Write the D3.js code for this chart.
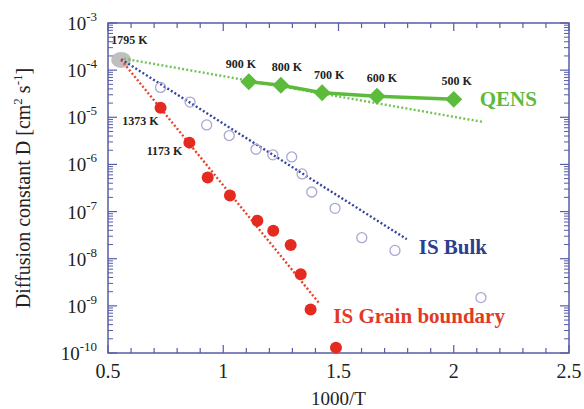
<!DOCTYPE html>
<html>
<head>
<meta charset="utf-8">
<script src="https://cdn.jsdelivr.net/npm/d3@7"></script>
<style>
  body { margin: 0; background: #fff; }
  text { font-family: "Liberation Serif", "Times New Roman", serif; }
</style>
</head>
<body>
<div id="chart"></div>
<script>
// Data
const xTicks = [0.5, 1, 1.5, 2, 2.5];
const yExponents = [-3, -4, -5, -6, -7, -8, -9, -10];

const refPoint = [0.557, 1.65e-4];   // 1795 K
const refLabel = "1795 K";

const grainX = [0.728, 0.853, 0.9325, 1.029, 1.148, 1.217, 1.2925, 1.336, 1.379, 1.489];
const grainD = [1.6e-5, 2.9e-6, 5.3e-7, 2.2e-7, 6.4e-8, 3.9e-8, 1.95e-8, 4.7e-9, 8.4e-10, 1.3e-10];

const bulkX = [0.728, 0.856, 0.928, 1.026, 1.142, 1.215, 1.297, 1.342, 1.384, 1.485, 1.601, 1.745, 2.118];
const bulkD = [4.3e-5, 2.1e-5, 6.9e-6, 4.1e-6, 2.1e-6, 1.6e-6, 1.44e-6, 6.3e-7, 2.6e-7, 1.17e-7, 2.8e-8, 1.5e-8, 1.5e-9];

const qensX = [1.111, 1.25, 1.429, 1.667, 2.0];
const qensD = [5.7e-5, 4.8e-5, 3.3e-5, 2.8e-5, 2.4e-5];
const qensLabels = ["900 K", "800 K", "700 K", "600 K", "500 K"];

// dotted fit lines (start, end)
const grainFitX = [0.557, 1.417];
const grainFitD = [1.65e-4, 1.13e-9];
const bulkFitX = [0.557, 1.796];
const bulkFitD = [1.7e-4, 2.6e-8];
const qensFitX = [0.57, 2.131];
const qensFitD = [1.75e-4, 7.9e-6];

// Set the dimensions and margins of the graph
const margin = { top: 23, right: 15, bottom: 56, left: 108 };
const width = 584 - margin.left - margin.right;
const height = 409 - margin.top - margin.bottom;

const axisColor = "#575ca6";
const red = "#e52b20";
const green = "#5dbb3c";
const blue = "#2c3f8e";

const svg = d3.select("#chart")
  .append("svg")
  .attr("width", 584)
  .attr("height", 409)
  .append("g")
  .attr("transform", `translate(${margin.left},${margin.top})`);

const x = d3.scaleLinear().domain([0.5, 2.5]).range([0, width]);
const y = d3.scaleLog().domain([1e-10, 1e-3]).range([height, 0]);

// frame
svg.append("rect")
  .attr("width", width)
  .attr("height", height)
  .attr("fill", "none")
  .attr("stroke", axisColor)
  .attr("stroke-width", 1.5);

// x ticks (major 0.5, minor 0.1) on bottom and top
const xMinor = d3.range(5, 26).map((d) => d / 10);
xMinor.forEach((v) => {
  const major = xTicks.some((t) => Math.abs(t - v) < 1e-9);
  const len = major ? 8 : 5;
  [[height, height - len], [0, len]].forEach(([a, b]) => {
    svg.append("line")
      .attr("x1", x(v)).attr("x2", x(v))
      .attr("y1", a).attr("y2", b)
      .attr("stroke", axisColor).attr("stroke-width", 1.2);
  });
});

// y ticks (decades + minor 2..9) on left and right
yExponents.forEach((e) => {
  [[0, 9], [width, width - 9]].forEach(([a, b]) => {
    svg.append("line")
      .attr("x1", a).attr("x2", b)
      .attr("y1", y(Math.pow(10, e))).attr("y2", y(Math.pow(10, e)))
      .attr("stroke", axisColor).attr("stroke-width", 1.2);
  });
  if (e === -3) return;
  for (let m = 2; m <= 9; m++) {
    const v = m * Math.pow(10, e);
    [[0, 5], [width, width - 5]].forEach(([a, b]) => {
      svg.append("line")
        .attr("x1", a).attr("x2", b)
        .attr("y1", y(v)).attr("y2", y(v))
        .attr("stroke", axisColor).attr("stroke-width", 1);
    });
  }
});

// x tick labels
svg.selectAll(".xlab")
  .data(xTicks)
  .enter()
  .append("text")
  .attr("x", (d) => x(d))
  .attr("y", height + 25)
  .attr("text-anchor", "middle")
  .attr("font-size", 20)
  .attr("fill", "#222")
  .text((d) => d);

// y tick labels as 10^n
const ylab = svg.selectAll(".ylab")
  .data(yExponents)
  .enter()
  .append("text")
  .attr("x", -11)
  .attr("y", (d) => y(Math.pow(10, d)) + 7)
  .attr("text-anchor", "end")
  .attr("fill", "#222");
ylab.append("tspan").attr("font-size", 19).text("10");
ylab.append("tspan").attr("font-size", 13).attr("dy", -9).text((d) => d);

// axis titles
svg.append("text")
  .attr("x", width / 2)
  .attr("y", height + 52)
  .attr("text-anchor", "middle")
  .attr("font-size", 19)
  .attr("fill", "#222")
  .text("1000/T");

const yt = svg.append("text")
  .attr("transform", `translate(${-78},${height / 2}) rotate(-90)`)
  .attr("text-anchor", "middle")
  .attr("font-size", 20)
  .attr("fill", "#222");
yt.append("tspan").text("Diffusion constant D [cm");
yt.append("tspan").attr("font-size", 13).attr("dy", -8).text("2");
yt.append("tspan").attr("dy", 8).text(" s");
yt.append("tspan").attr("font-size", 13).attr("dy", -8).text("-1");
yt.append("tspan").attr("dy", 8).text("]");

// 1795 K gray marker
svg.append("ellipse")
  .attr("cx", x(refPoint[0]))
  .attr("cy", y(refPoint[1]))
  .attr("rx", 10)
  .attr("ry", 8)
  .attr("fill", "#b4b4b4")
  .attr("opacity", 0.85);

// dotted fit lines
const fit = d3.line().x((d) => x(d[0])).y((d) => y(d[1]));
[[qensFitX, qensFitD, "#72c452"], [bulkFitX, bulkFitD, "#34459c"], [grainFitX, grainFitD, "#e2452f"]]
  .forEach(([xs, ds, c]) => {
    svg.append("path")
      .datum(d3.zip(xs, ds))
      .attr("d", fit)
      .attr("fill", "none")
      .attr("stroke", c)
      .attr("stroke-width", 2.4)
      .attr("stroke-dasharray", "2,2.2");
  });

// IS bulk open circles
svg.selectAll(".bulk")
  .data(d3.zip(bulkX, bulkD))
  .enter()
  .append("circle")
  .attr("cx", (d) => x(d[0]))
  .attr("cy", (d) => y(d[1]))
  .attr("r", 5)
  .attr("fill", "none")
  .attr("stroke", "#a7a8d2")
  .attr("stroke-width", 1.3);

// IS grain boundary filled circles
svg.selectAll(".grain")
  .data(d3.zip(grainX, grainD))
  .enter()
  .append("circle")
  .attr("cx", (d) => x(d[0]))
  .attr("cy", (d) => y(d[1]))
  .attr("r", 6)
  .attr("fill", red);

// QENS line + diamonds
svg.append("path")
  .datum(d3.zip(qensX, qensD))
  .attr("d", fit)
  .attr("fill", "none")
  .attr("stroke", green)
  .attr("stroke-width", 3.5);

svg.selectAll(".qens")
  .data(d3.zip(qensX, qensD))
  .enter()
  .append("path")
  .attr("transform", (d) => `translate(${x(d[0])},${y(d[1])}) rotate(45)`)
  .attr("d", "M-6,-6H6V6H-6Z")
  .attr("fill", green);

// temperature labels
const dx = [-8, 6, 7, 5, 3];
svg.selectAll(".qlab")
  .data(qensLabels)
  .enter()
  .append("text")
  .attr("x", (d, i) => x(qensX[i]) + dx[i])
  .attr("y", (d, i) => y(qensD[i]) - 14)
  .attr("text-anchor", "middle")
  .attr("font-size", 12)
  .attr("font-weight", "bold")
  .attr("fill", "#222")
  .text((d) => d);

svg.append("text")
  .attr("x", x(refPoint[0]) - 10)
  .attr("y", y(refPoint[1]) - 16)
  .attr("font-size", 12)
  .attr("font-weight", "bold")
  .attr("fill", "#222")
  .text(refLabel);

svg.append("text")
  .attr("x", x(grainX[0]) - 2)
  .attr("y", y(grainD[0]) + 17)
  .attr("text-anchor", "end")
  .attr("font-size", 12)
  .attr("font-weight", "bold")
  .attr("fill", "#222")
  .text("1373 K");

svg.append("text")
  .attr("x", x(grainX[1]) - 7)
  .attr("y", y(grainD[1]) + 12)
  .attr("text-anchor", "end")
  .attr("font-size", 12)
  .attr("font-weight", "bold")
  .attr("fill", "#222")
  .text("1173 K");

// series names
svg.append("text")
  .attr("x", x(qensX[4]) + 26)
  .attr("y", y(qensD[4]) + 7)
  .attr("font-size", 21)
  .attr("font-weight", "bold")
  .attr("fill", green)
  .text("QENS");

svg.append("text")
  .attr("x", x(bulkFitX[1]) + 12)
  .attr("y", y(bulkFitD[1]) + 15)
  .attr("font-size", 21)
  .attr("font-weight", "bold")
  .attr("fill", blue)
  .text("IS Bulk");

svg.append("text")
  .attr("x", x(grainFitX[1]) + 14)
  .attr("y", y(grainFitD[1]) + 20)
  .attr("font-size", 21)
  .attr("font-weight", "bold")
  .attr("fill", "#e03a26")
  .text("IS Grain boundary");
</script>
</body>
</html>
